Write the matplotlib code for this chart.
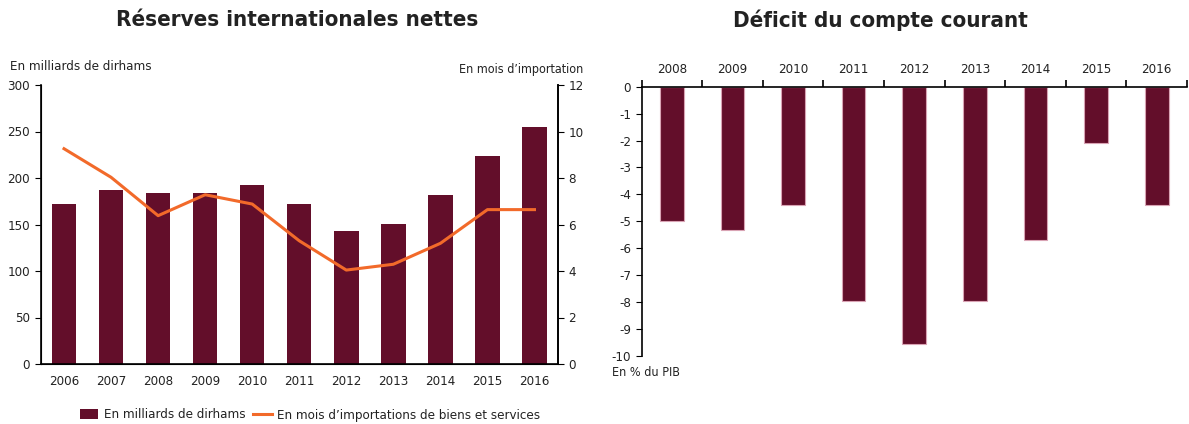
import matplotlib.pyplot as plt
import numpy as np

plt.rcParams['font.family'] = ['DejaVu Sans']
plt.rcParams['font.stretch'] = 'condensed'
plt.rcParams['axes.unicode_minus'] = False

# Réserves internationales nettes
years_res = ['2006', '2007', '2008', '2009', '2010', '2011', '2012', '2013', '2014', '2015', '2016']
reserves = [172, 187, 184, 184, 192.5, 172, 143, 150.5, 182, 223.5, 255]
mois_import = [9.26, 8.03, 6.38, 7.28, 6.88, 5.3, 4.04, 4.29, 5.19, 6.64, 6.64]

# Déficit du compte courant
years_def = ['2008', '2009', '2010', '2011', '2012', '2013', '2014', '2015', '2016']
deficit = [-5.0, -5.33, -4.4, -7.97, -9.54, -7.97, -5.7, -2.09, -4.4]

bar_col = '#630e2a'
line_col = '#f26a2a'
txt_col = '#222222'
fs = 9.5

fig = plt.figure(figsize=(11.89, 4.24), dpi=100)

# ---- left chart
ax = fig.add_axes([40.5/1189, 1-364/424, (558-40.5)/1189, (364-85)/424])
x = np.arange(len(years_res))
ax.bar(x, reserves, width=0.52, color=bar_col, label='En milliards de dirhams', zorder=2)
ax.set_xlim(-0.5, len(years_res)-0.5)
ax.set_ylim(0, 300)
ax.set_yticks(np.arange(0, 301, 50))
ax.set_xticks(x)
ax.set_xticklabels(years_res)
ax.tick_params(axis='x', length=0, labelsize=fs, pad=8, labelcolor=txt_col)
ax.tick_params(axis='y', length=4, labelsize=fs, direction='out', labelcolor=txt_col)
ax.spines['top'].set_visible(False)
for s in ['left', 'bottom', 'right']:
    ax.spines[s].set_linewidth(1.2)

ax2 = ax.twinx()
ax2.plot(x, mois_import, color=line_col, lw=2.2, label="En mois d\u2019importations de biens et services", zorder=3)
ax2.set_ylim(0, 12)
ax2.set_yticks(np.arange(0, 13, 2))
ax2.tick_params(axis='y', length=4, labelsize=fs, labelcolor=txt_col)
ax2.spines['top'].set_visible(False)
ax2.spines['right'].set_linewidth(1.2)

fig.text(10/1189, 1-67/424, 'En milliards de dirhams', fontsize=fs, va='center', ha='left', color=txt_col)
fig.text(583/1189, 1-69/424, "En mois d\u2019importation", fontsize=9, va='center', ha='right', color=txt_col)
fig.text(297/1189, 1-20/424, 'Réserves internationales nettes', fontsize=16, fontweight='bold',
         ha='center', va='center', color=txt_col)

h1, l1 = ax.get_legend_handles_labels()
h2, l2 = ax2.get_legend_handles_labels()
leg = fig.legend(h1 + h2, l1 + l2, loc='center', bbox_to_anchor=(310/1189, 1-415/424), ncol=2,
                 frameon=False, fontsize=fs, handlelength=1.4, handletextpad=0.4, columnspacing=0.6)
for t in leg.get_texts():
    t.set_color(txt_col)

# ---- right chart
bx = fig.add_axes([641.5/1189, 1-356/424, (1187-641.5)/1189, (356-86.7)/424])
xd = np.arange(len(years_def))
bx.bar(xd, deficit, width=0.39, color=bar_col, edgecolor='#d9a3b4', linewidth=0.8, zorder=2)
bx.set_xlim(-0.5, len(years_def)-0.5)
bx.set_ylim(-10, 0)
bx.set_yticks(np.arange(-10, 1, 1))
bx.set_xticks(np.arange(-0.5, len(years_def), 1))
bx.set_xticklabels([])
bx.set_xticks(xd, minor=True)
bx.set_xticklabels(years_def, minor=True)
bx.xaxis.set_ticks_position('top')
bx.tick_params(axis='x', which='major', direction='out', length=5, width=1.2)
bx.tick_params(axis='x', which='minor', length=0, labelsize=fs, pad=8, labelcolor=txt_col)
bx.tick_params(axis='y', length=4, labelsize=fs, labelcolor=txt_col)
bx.spines['bottom'].set_visible(False)
bx.spines['right'].set_visible(False)
bx.spines['top'].set_linewidth(1.2)
bx.spines['left'].set_linewidth(1.2)

fig.text(612/1189, 1-372/424, 'En % du PIB', fontsize=9, va='center', ha='left', color=txt_col)
fig.text(880/1189, 1-20/424, 'Déficit du compte courant', fontsize=16, fontweight='bold',
         ha='center', va='center', color=txt_col)

fig.savefig('out.png', dpi=100)
